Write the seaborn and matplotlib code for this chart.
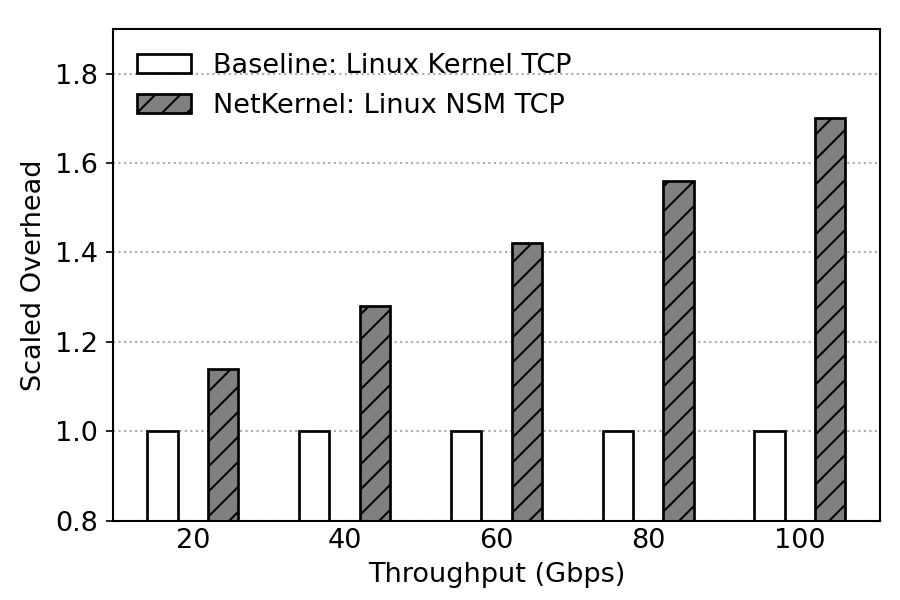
import pandas as pd
import matplotlib
matplotlib.use("Agg")
import matplotlib.pyplot as plt
import seaborn as sns

# Chart values
throughput = ["20", "40", "60", "80", "100"]
baseline = [1.0, 1.0, 1.0, 1.0, 1.0]
netkernel = [1.14, 1.28, 1.42, 1.56, 1.70]
series_names = ["Baseline: Linux Kernel TCP", "NetKernel: Linux NSM TCP"]

df = pd.DataFrame({
    "Throughput": throughput * 2,
    "Overhead": baseline + netkernel,
    "System": [series_names[0]] * len(throughput) + [series_names[1]] * len(throughput),
})

sns.set_style("ticks")
plt.rcParams["font.family"] = ["DejaVu Sans"]
plt.rcParams["font.size"] = 13
plt.rcParams["text.color"] = "black"
plt.rcParams["axes.labelcolor"] = "black"
plt.rcParams["hatch.linewidth"] = 1.0

fig, ax = plt.subplots(figsize=(6, 4), dpi=150)

sns.barplot(data=df, x="Throughput", y="Overhead", hue="System",
            order=throughput, hue_order=series_names,
            palette=["white", "gray"], width=0.8, gap=0.5,
            edgecolor="black", linewidth=1.3, saturation=1, ax=ax)

# hatch on the NetKernel bars
for bar in ax.containers[1]:
    bar.set_hatch("//")

ax.set_ylim(0.8, 1.9)
ax.set_xlim(-0.53, 4.53)
ax.set_yticks([0.8, 1.0, 1.2, 1.4, 1.6, 1.8])
ax.set_xlabel("Throughput (Gbps)", fontsize=13, color="black")
ax.set_ylabel("Scaled Overhead", fontsize=13, color="black")
ax.tick_params(axis="both", labelsize=13, colors="black")
ax.tick_params(axis="x", length=0)

ax.yaxis.grid(True, linestyle=":", color="#aaaaaa", linewidth=1.0)
ax.set_axisbelow(True)
for s in ax.spines.values():
    s.set_visible(True)
    s.set_color("black")
    s.set_linewidth(1.0)

leg = ax.legend(loc="upper left", frameon=False, fontsize=13)
for t in leg.get_texts():
    t.set_color("black")
for h in leg.legend_handles:
    h.set_edgecolor("black")
    h.set_linewidth(1.3)
leg.legend_handles[1].set_hatch("//")

fig.subplots_adjust(left=0.125, right=0.978, top=0.952, bottom=0.132)
fig.savefig("out.png", dpi=150)
